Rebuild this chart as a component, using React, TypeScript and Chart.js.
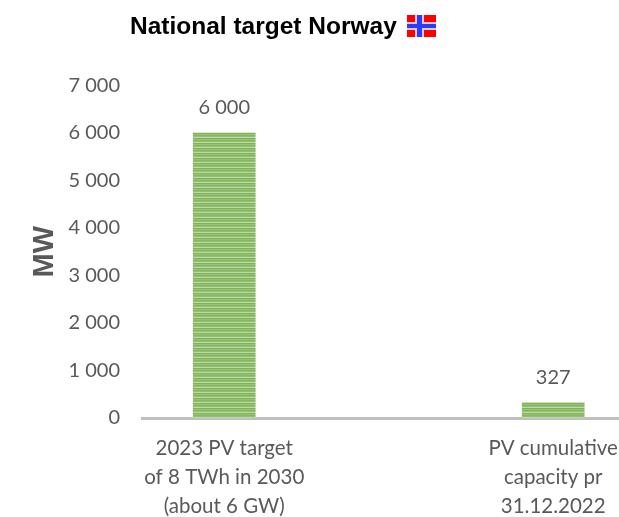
import React, { useEffect, useRef } from "react";
import { Chart, registerables } from "chart.js";

Chart.register(...registerables);

const categories = [
  ["2023 PV target", "of 8 TWh in 2030", "(about 6 GW)"],
  ["PV cumulative", "capacity pr", "31.12.2022"],
];
const values = [6000, 327];
const positions = [0, 1];
const titleText = "National target Norway";
const axisTitle = "MW";
const TEXT = "#595959";

function fmt(v: number) {
  return v >= 1000 ? `${Math.floor(v / 1000)} ${String(v % 1000).padStart(3, "0")}` : String(v);
}

function barPattern(ctx: CanvasRenderingContext2D) {
  const c = document.createElement("canvas");
  c.width = 5;
  c.height = 5;
  const p = c.getContext("2d")!;
  ["#86b662", "#92bf70", "#bcdba4", "#80b25a", "#98c278"].forEach((col, i) => {
    p.fillStyle = col;
    p.fillRect(0, i, 5, 1);
  });
  return ctx.createPattern(c, "repeat")!;
}

const decor = {
  id: "decor",
  beforeDraw(chart: any) {
    chart.titleBlock.left = 130;
    chart.titleBlock.right = 619;
  },
  afterDatasetsDraw(chart: any) {
    const { ctx } = chart;
    const meta = chart.getDatasetMeta(0);
    ctx.save();
    ctx.font = "20px Lato";
    ctx.fillStyle = TEXT;
    ctx.textAlign = "center";
    ctx.textBaseline = "middle";
    meta.data.forEach((bar: any, i: number) => {
      ctx.fillText(fmt(values[i]), bar.x, bar.y - 25);
    });
    // Norwegian flag beside the title
    ctx.fillStyle = "#ff0000";
    ctx.fillRect(407, 15, 29, 22);
    ctx.fillStyle = "#e0c8d0";
    ctx.fillRect(415, 15, 9, 22);
    ctx.fillRect(407, 22, 29, 8);
    ctx.fillStyle = "#2a3cff";
    ctx.fillRect(417, 15, 5, 22);
    ctx.fillRect(407, 24, 29, 4);
    ctx.restore();
  },
};

export default function App() {
  const ref = useRef<HTMLCanvasElement>(null);
  useEffect(() => {
    const canvas = ref.current!;
    const chart = new Chart(canvas, {
      type: "bar",
      data: {
        datasets: [
          {
            data: positions.map((x, i) => ({ x, y: values[i] })),
            backgroundColor: barPattern(canvas.getContext("2d")!),
            barThickness: 62,
          },
        ],
      },
      options: {
        responsive: false,
        animation: false,
        layout: { padding: { top: 0, left: 0, right: 0, bottom: 0 } },
        plugins: {
          legend: { display: false },
          tooltip: { enabled: false },
          title: {
            display: true,
            text: titleText,
            align: "start",
            color: "#000000",
            font: { family: "Liberation Sans", size: 24.5, weight: "bold" },
            padding: { top: 13, bottom: 43 },
          },
        },
        scales: {
          x: {
            type: "linear",
            offset: false,
            min: -0.25,
            max: 1.2,
            grid: { display: false, drawTicks: false },
            border: { display: true, color: "#bfbfbf", width: 3 },
            afterBuildTicks(scale: any) {
              scale.ticks = positions.map((value) => ({ value }));
            },
            afterFit(scale: any) {
              scale.paddingLeft = 0;
              scale.paddingRight = 0;
              scale.height = 99;
            },
            ticks: {
              autoSkip: false,
              maxRotation: 0,
              minRotation: 0,
              color: TEXT,
              padding: 16,
              font: { family: "Lato", size: 20.5, lineHeight: 1.41 },
              callback: (v: any) => categories[positions.indexOf(Number(v))] ?? "",
            },
          },
          y: {
            min: 0,
            max: 7000,
            grid: { display: false, drawTicks: false },
            border: { display: false },
            afterFit(scale: any) {
              scale.width = 142;
            },
            title: {
              display: true,
              text: axisTitle,
              color: TEXT,
              font: { family: "Liberation Sans", size: 29, weight: "bold" },
              padding: { top: 28, bottom: 0 },
            },
            ticks: {
              stepSize: 1000,
              color: TEXT,
              padding: 22,
              font: { family: "Lato", size: 20 },
              callback: (v: any) => fmt(Number(v)),
            },
          },
        },
      },
      plugins: [decor],
    } as any);
    return () => chart.destroy();
  }, []);
  return (
    <div style={{ position: "fixed", inset: 0, overflow: "hidden", background: "#fff" }}>
      <canvas ref={ref} width={619} height={517} style={{ display: "block" }} />
    </div>
  );
}
